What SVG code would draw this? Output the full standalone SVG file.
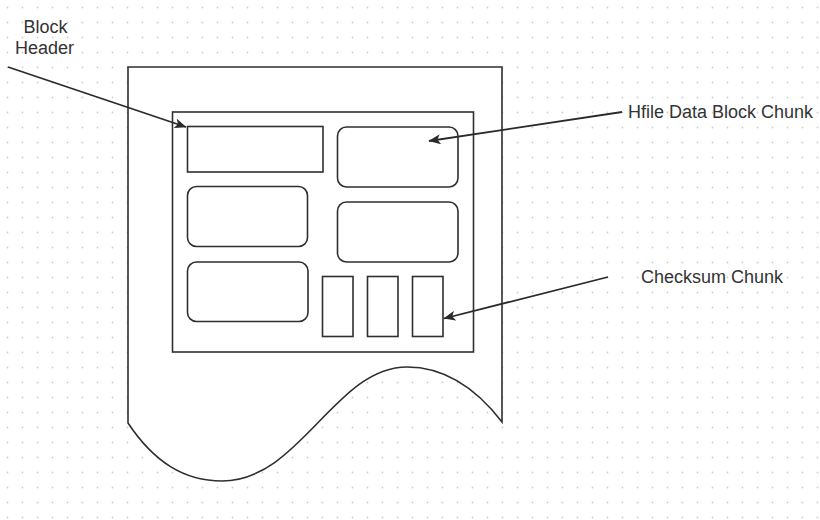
<svg xmlns="http://www.w3.org/2000/svg" width="820" height="520" viewBox="0 0 820 520">
  <defs>
    <pattern id="dots" width="15" height="15" patternUnits="userSpaceOnUse" x="0" y="0">
      <circle cx="7.5" cy="7.5" r="0.9" fill="#cfcfcf"/>
    </pattern>
    <marker id="arrow" markerUnits="userSpaceOnUse" markerWidth="12" markerHeight="10" viewBox="0 0 12 10" refX="11.5" refY="5" orient="auto">
      <path d="M0,0 L12,5 L0,10 L3,5 Z" fill="#2a2a2a"/>
    </marker>
    <style>
      .shape { fill: #ffffff; stroke: #2f2f2f; stroke-width: 1.6; }
      .conn { fill: none; stroke: #2a2a2a; stroke-width: 1.8; marker-end: url(#arrow); }
      .label { font-family: "Liberation Sans", Arial, sans-serif; font-size: 18px; fill: #333333; }
    </style>
  </defs>
  <rect x="0" y="0" width="820" height="520" fill="#ffffff"/>
  <rect x="0" y="0" width="820" height="520" fill="url(#dots)"/>

  <g id="document">
    <path class="shape" d="M128,67 H502 V422 C482,396 452,367 407,367 C335,367 300,481 222,481 C184,481 154,462 128,423 Z"/>
  </g>
  <g id="hfile-block">
    <rect class="shape" x="172.5" y="112" width="301" height="240"/>
  </g>
  <g id="block-header">
    <rect class="shape" x="187.5" y="126.5" width="135.5" height="45.5"/>
  </g>
  <g id="chunk-1">
    <rect class="shape" x="337.5" y="127" width="120.5" height="60" rx="9"/>
  </g>
  <g id="chunk-2">
    <rect class="shape" x="187.5" y="186.5" width="120" height="60" rx="9"/>
  </g>
  <g id="chunk-3">
    <rect class="shape" x="337.5" y="202" width="120.5" height="60" rx="9"/>
  </g>
  <g id="chunk-4">
    <rect class="shape" x="187.5" y="262" width="120.5" height="59.5" rx="9"/>
  </g>
  <g id="checksum-1">
    <rect class="shape" x="322.5" y="276.5" width="30.5" height="60"/>
  </g>
  <g id="checksum-2">
    <rect class="shape" x="367.5" y="276.5" width="30.5" height="60"/>
  </g>
  <g id="checksum-3">
    <rect class="shape" x="412.5" y="276.5" width="30.5" height="60"/>
  </g>

  <g id="label-block-header">
    <text class="label" x="45.5" y="33" text-anchor="middle">Block</text>
    <text class="label" x="44.5" y="54" text-anchor="middle">Header</text>
  </g>
  <g id="label-hfile">
    <text class="label" x="628" y="118">Hfile Data Block Chunk</text>
  </g>
  <g id="label-checksum">
    <text class="label" x="641" y="283">Checksum Chunk</text>
  </g>

  <g id="connectors">
    <line class="conn" x1="8" y1="67" x2="186" y2="127"/>
    <line class="conn" x1="622" y1="112" x2="429" y2="141"/>
    <line class="conn" x1="608" y1="277" x2="444" y2="318.5"/>
  </g>
</svg>
